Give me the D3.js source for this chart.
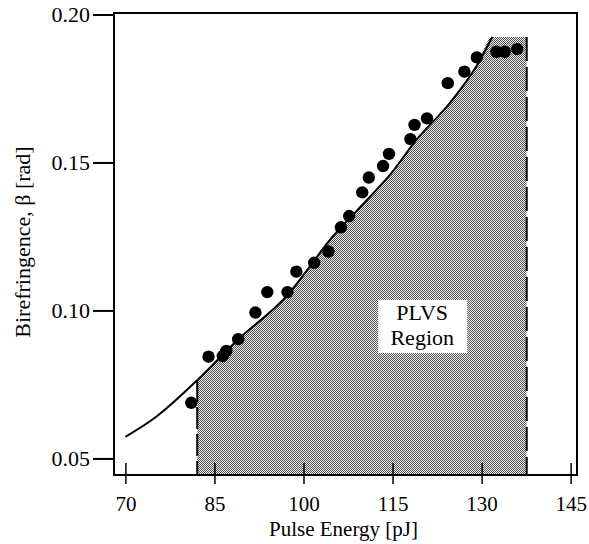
<!DOCTYPE html>
<html>
<head>
<meta charset="utf-8">
<script src="https://cdn.jsdelivr.net/npm/d3@7"></script>
<style>
  html, body { margin: 0; padding: 0; background: #fff; }
  svg { display: block; }
  text { font-family: "Liberation Serif", "Times New Roman", serif; fill: #000; }
</style>
</head>
<body>
<svg id="chart" width="589" height="544"></svg>
<script>
// ---- data ----
const pointEnergy = [81.1, 84.0, 86.4, 87.0, 89.0, 91.9, 93.9, 97.3, 98.8, 101.8, 104.2, 106.3, 107.7,
  109.9, 111.0, 113.4, 114.4, 118.0, 118.7, 120.8, 124.3, 127.1, 129.2, 132.5, 133.9, 136.0];
const pointBeta = [0.0688, 0.0844, 0.0846, 0.0863, 0.0903, 0.0993, 0.1062, 0.1062, 0.1131, 0.1161, 0.1199,
  0.1281, 0.1319, 0.1399, 0.1449, 0.1488, 0.1529, 0.1579, 0.1627, 0.1649, 0.1768, 0.1807, 0.1855,
  0.1874, 0.1874, 0.1883];
const curveEnergy = [70.0, 75.2, 82.5, 88.9, 97.1, 104.9, 111.2, 114.8, 119.0, 124.6, 129.1, 131.8];
const curveBeta = [0.0573, 0.0641, 0.0772, 0.0900, 0.1047, 0.1249, 0.1384, 0.1464, 0.1576, 0.1700, 0.1824, 0.1924];
const regionEnergy = [82.1, 137.6];      // PLVS region bounds (pJ)
const regionTopBeta = 0.1924;
const xTicks = [70, 85, 100, 115, 130, 145];
const yTicks = [0.05, 0.10, 0.15, 0.20];
const xTitle = "Pulse Energy [pJ]";
const yTitle = "Birefringence, \u03B2 [rad]";
const regionLabel = ["PLVS", "Region"];

// ---- layout ----
const svg = d3.select("#chart");
const L = 114, R = 577, T = 13, B = 475;
const x = d3.scaleLinear().domain([68.08, 146.07]).range([L, R]);
const y = d3.scaleLinear().domain([0.0444, 0.2005]).range([B, T]);

// pattern (dithered grey)
const defs = svg.append("defs");
const pat = defs.append("pattern").attr("id", "dither").attr("patternUnits", "userSpaceOnUse")
  .attr("width", 2).attr("height", 2);
pat.append("rect").attr("width", 2).attr("height", 2).attr("fill", "#ececec");
pat.append("rect").attr("x", 0).attr("y", 0).attr("width", 1).attr("height", 1).attr("fill", "#555");
pat.append("rect").attr("x", 1).attr("y", 1).attr("width", 1).attr("height", 1).attr("fill", "#555");

defs.append("clipPath").attr("id", "regionClip").append("rect")
  .attr("x", x(regionEnergy[0])).attr("y", T)
  .attr("width", x(regionEnergy[1]) - x(regionEnergy[0])).attr("height", B - T);

// region data: curve plus flat top
const curveData = curveEnergy.map((e, i) => ({ e, b: curveBeta[i] }));
const regionData = curveData.concat([{ e: regionEnergy[1], b: regionTopBeta }]);

const area = d3.area().x(d => x(d.e)).y0(y(y.domain()[0])).y1(d => y(d.b)).curve(d3.curveMonotoneX);
svg.append("path").datum(regionData).attr("d", area).attr("fill", "url(#dither)")
  .attr("clip-path", "url(#regionClip)");

// dashed region edges
const interpBeta = d3.scaleLinear().domain(curveEnergy).range(curveBeta);
svg.append("line").attr("x1", x(regionEnergy[0])).attr("x2", x(regionEnergy[0]))
  .attr("y1", y(interpBeta(regionEnergy[0]))).attr("y2", B)
  .attr("stroke", "#000").attr("stroke-width", 2).attr("stroke-dasharray", "22,5");
svg.append("line").attr("x1", x(regionEnergy[1])).attr("x2", x(regionEnergy[1]))
  .attr("y1", y(regionTopBeta)).attr("y2", B)
  .attr("stroke", "#000").attr("stroke-width", 2).attr("stroke-dasharray", "24,6");

// label box
const lx = x(120), ly = y(0.0968);
svg.append("rect").attr("x", lx - 44).attr("y", ly - 20).attr("width", 89).attr("height", 53).attr("fill", "#fff");
svg.append("text").attr("x", lx).attr("y", ly).attr("text-anchor", "middle").attr("font-size", 22).text(regionLabel[0]);
svg.append("text").attr("x", lx).attr("y", ly + 25).attr("text-anchor", "middle").attr("font-size", 22).text(regionLabel[1]);

// curve
const line = d3.line().x(d => x(d.e)).y(d => y(d.b)).curve(d3.curveMonotoneX);
svg.append("path").datum(curveData).attr("d", line).attr("fill", "none")
  .attr("stroke", "#000").attr("stroke-width", 2);

// points
svg.append("g").selectAll("circle").data(pointEnergy.map((e, i) => ({ e, b: pointBeta[i] })))
  .join("circle").attr("cx", d => x(d.e)).attr("cy", d => y(d.b)).attr("r", 6.2).attr("fill", "#000");

// frame
svg.append("rect").attr("x", L).attr("y", T).attr("width", R - L).attr("height", B - T)
  .attr("fill", "none").attr("stroke", "#000").attr("stroke-width", 2);

// y axis
const yAxis = d3.axisLeft(y).tickValues(yTicks).tickFormat(d3.format(".2f")).tickSize(21).tickPadding(3);
const gy = svg.append("g").attr("transform", `translate(${L},0)`).call(yAxis);
gy.select(".domain").remove();
gy.selectAll(".tick line").attr("stroke", "#000").attr("stroke-width", 2);
gy.selectAll(".tick text").attr("font-size", 22).attr("font-family", "Liberation Serif").attr("fill", "#000");

// x axis: ticks crossing the axis
const xAxis = d3.axisBottom(x).tickValues(xTicks).tickFormat(d3.format("d")).tickSizeInner(9).tickSizeOuter(0).tickPadding(12);
const gx = svg.append("g").attr("transform", `translate(0,${B})`).call(xAxis);
gx.select(".domain").remove();
gx.selectAll(".tick line").attr("y1", -12).attr("stroke", "#000").attr("stroke-width", 1.5);
gx.selectAll(".tick text").attr("font-size", 21).attr("font-family", "Liberation Serif").attr("fill", "#000");

// titles
svg.append("text").attr("x", (L + R) / 2 - 2).attr("y", 536).attr("text-anchor", "middle")
  .attr("font-size", 21).text(xTitle);
svg.append("text").attr("transform", `translate(30,${242}) rotate(-90)`).attr("text-anchor", "middle")
  .attr("font-size", 22).text(yTitle);
</script>
</body>
</html>
